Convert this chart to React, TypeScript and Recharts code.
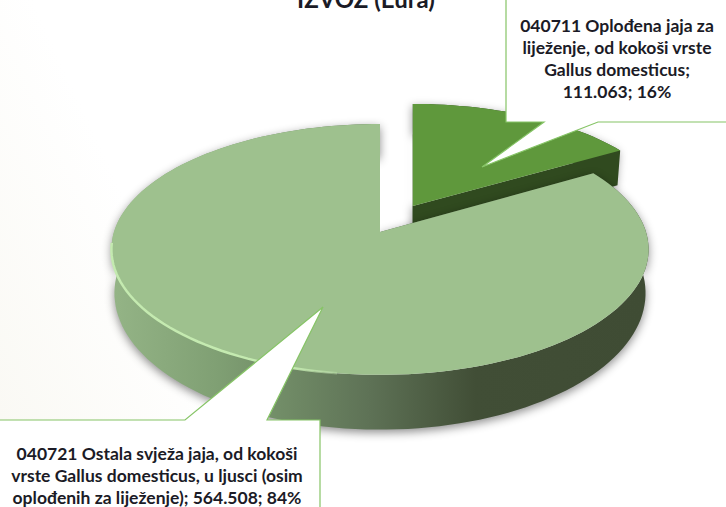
import { PieChart, Pie } from 'recharts';

const categories = [
  '040711 Oplođena jaja za liježenje, od kokoši vrste Gallus domesticus',
  '040721 Ostala svježa jaja, od kokoši vrste Gallus domesticus, u ljusci (osim oplođenih za liježenje)',
];
const values = [111063, 564508];
const sliceColors = ['#5f983c', '#9ec18e'];
const wallFills = ['#304a1f', 'url(#bigWall)'];
const labelLines = [
  ['040711 Oplođena jaja za', 'liježenje, od kokoši vrste', 'Gallus domesticus;', '111.063; 16%'],
  ['040721 Ostala svježa jaja, od kokoši', 'vrste Gallus domesticus, u ljusci (osim', 'oplođenih za liježenje); 564.508; 84%'],
];
const explode = [0.25, 0];
const wallShadows = [
  'drop-shadow(-1px 2px 4px rgba(0,0,0,0.35))',
  'drop-shadow(0px 3px 5px rgba(0,0,0,0.45))',
];

const data = categories.map((name, i) => ({ name, value: values[i] }));

// projection of the pie disc, the tilt has some perspective (far side is smaller)
const CX = 380;
const CY = 232;
const R = 266;
const P = 0.139;
const TOP_S = 123;
const BOTTOM_S = 134;
const BOTTOM_R = 263;
const DEPTH = 42;
const FONT = 'Lato, Carlito, sans-serif';

function project(u: number, v: number, offU: number, low: boolean) {
  const k = 1 + P * v;
  const rx = low ? BOTTOM_R : R;
  const s = low ? BOTTOM_S : TOP_S;
  return [CX + rx * offU + (rx * u) / k, CY + (low ? DEPTH : 0) - (s * v) / k];
}

function onDisc(deg: number, off: number[], low: boolean) {
  const a = (deg * Math.PI) / 180;
  return project(Math.cos(a), off[1] + Math.sin(a), off[0], low);
}

function arcPts(from: number, to: number, off: number[], low: boolean) {
  const n = Math.ceil(Math.abs(to - from) / 2);
  const pts: number[][] = [];
  for (let i = 0; i <= n; i++) pts.push(onDisc(from + ((to - from) * i) / n, off, low));
  return pts;
}

const toPath = (pts: number[][]) =>
  'M' + pts.map((p) => p[0].toFixed(1) + ',' + p[1].toFixed(1)).join('L') + 'Z';

function SliceShape(props: any) {
  const { startAngle, endAngle, index, fill } = props;
  const mid = (((startAngle + endAngle) / 2) * Math.PI) / 180;
  const off = [explode[index] * Math.cos(mid), explode[index] * Math.sin(mid)];
  const topArc = arcPts(startAngle, endAngle, off, false);
  const lowArc = arcPts(startAngle, endAngle, off, true);
  const apexTop = project(0, off[1], off[0], false);
  const apexLow = project(0, off[1], off[0], true);
  const wall = [
    toPath([...topArc, ...[...lowArc].reverse()]),
    toPath([apexTop, topArc[0], lowArc[0], apexLow]),
    toPath([apexTop, topArc[topArc.length - 1], lowArc[lowArc.length - 1], apexLow]),
  ].join(' ');
  const top = toPath([apexTop, ...topArc]);
  const rim = index === 1 ? arcPts(185, 262, off, false) : [];
  return (
    <g>
      <path d={wall} fill={wallFills[index]} style={{ filter: wallShadows[index] }} />
      <path d={top} fill={fill} />
      {rim.length > 0 && (
        <path
          d={'M' + rim.map((p) => p.join(',')).join('L')}
          fill="none"
          stroke="url(#rimGlow)"
          strokeWidth={2.5}
        />
      )}
    </g>
  );
}

const callouts = [
  '506,-2 506,122 544,122 482,167 598,122 728,122 728,-2',
  '-2,420 185,420 323,307 267,420 320,420 320,509 -2,509',
];
const labelCenters = [617, 157];
const labelTops = [32, 460];

function Callout(props: any) {
  const i = props.index;
  return (
    <g>
      <polygon points={callouts[i]} fill="#ffffff" stroke="#86c466" strokeWidth={1.2} />
      <text x={labelCenters[i]} y={labelTops[i]} textAnchor="middle" fontFamily={FONT} fontWeight={700} fontSize={17.5} fill="#1b1b26">
        {labelLines[i].map((line, k) => (
          <tspan key={k} x={labelCenters[i]} dy={k === 0 ? 0 : 22}>
            {line}
          </tspan>
        ))}
      </text>
    </g>
  );
}

export default function App() {
  return (
    <div
      style={{
        position: 'absolute',
        left: 0,
        top: 0,
        width: 726,
        height: 507,
        overflow: 'hidden',
        background: 'linear-gradient(65deg, #f9f8f2 0%, #ffffff 28%)',
      }}
    >
      <PieChart width={726} height={507} margin={{ top: 0, right: 0, bottom: 0, left: 0 }}>
        <defs>
          <linearGradient id="bigWall" gradientUnits="userSpaceOnUse" x1={113} y1={0} x2={646} y2={0}>
            <stop offset="0" stopColor="#94b486" />
            <stop offset="0.2" stopColor="#7f9f73" />
            <stop offset="0.48" stopColor="#5e7256" />
            <stop offset="0.68" stopColor="#414e36" />
            <stop offset="1" stopColor="#3f4c34" />
          </linearGradient>
          <linearGradient id="rimGlow" gradientUnits="userSpaceOnUse" x1={110} y1={0} x2={366} y2={0}>
            <stop offset="0" stopColor="#c4eab0" />
            <stop offset="0.7" stopColor="#c4eab0" />
            <stop offset="1" stopColor="#c4eab0" stopOpacity={0} />
          </linearGradient>
        </defs>
        <text x={366} y={8} textAnchor="middle" fontFamily={FONT} fontWeight={700} fontSize={24} fill="#1b1b26">
          IZVOZ (Eura)
        </text>
        <Pie
          data={data}
          dataKey="value"
          nameKey="name"
          cx={CX}
          cy={CY}
          outerRadius={R}
          startAngle={90}
          endAngle={-270}
          paddingAngle={0}
          stroke="none"
          fill={sliceColors[1]}
          isAnimationActive={false}
          shape={(p: any) => <SliceShape {...p} fill={sliceColors[p.index]} />}
          label={(p: any) => <Callout {...p} />}
          labelLine={false}
        />
      </PieChart>
    </div>
  );
}
